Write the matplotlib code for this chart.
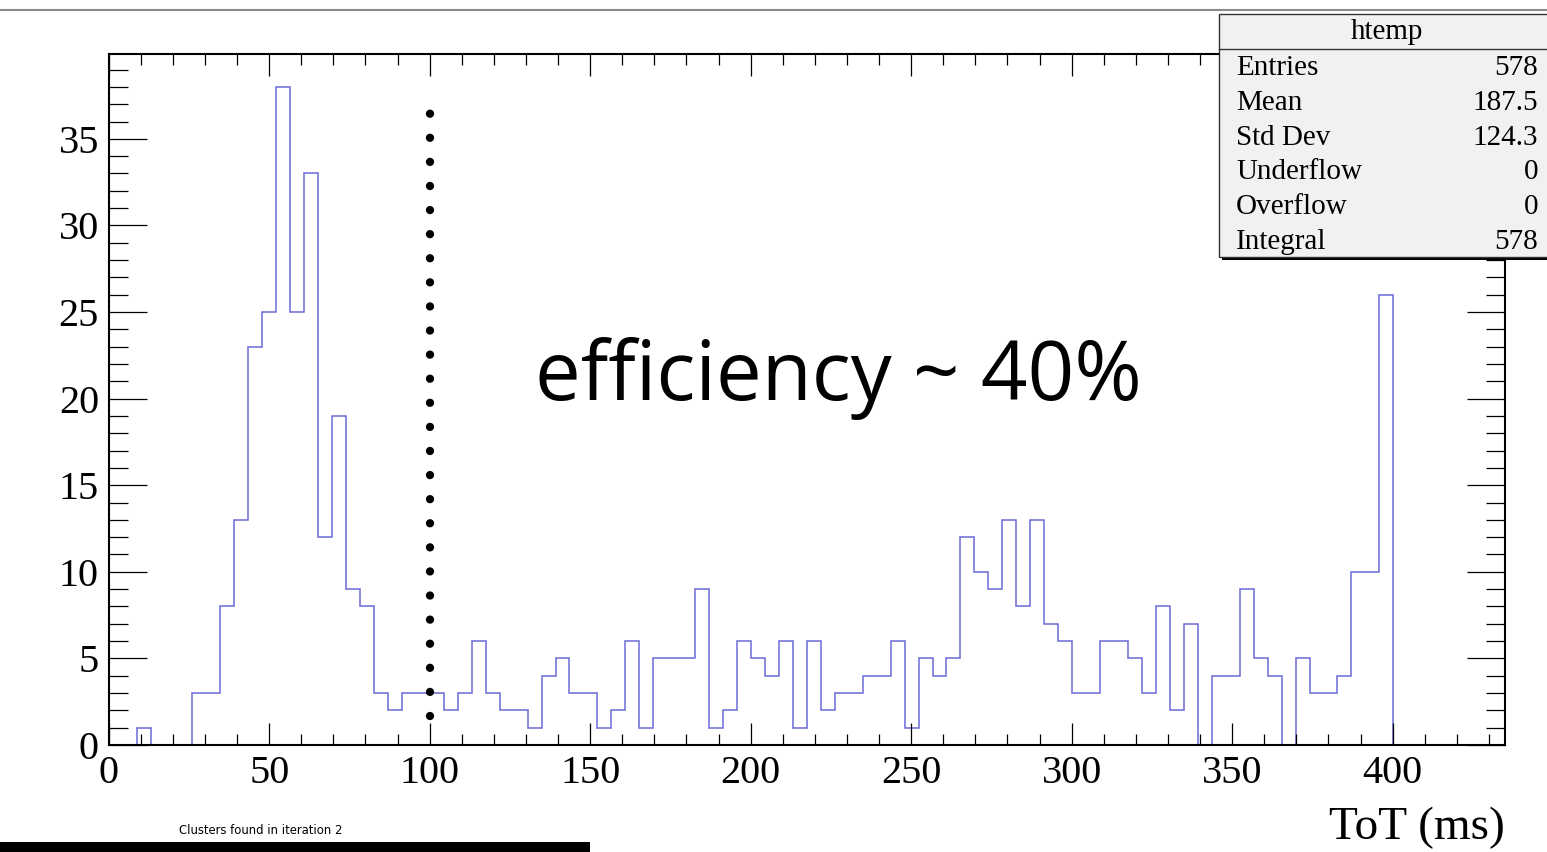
import numpy as np
import matplotlib.pyplot as plt
from matplotlib.patches import Rectangle
from matplotlib.lines import Line2D
from matplotlib.ticker import MultipleLocator

# htemp: ToT histogram, 100 bins over 0..435
counts = [0, 0, 1, 0, 0, 0, 3, 3, 8, 13,
          23, 25, 38, 25, 33, 12, 19, 9, 8, 3,
          2, 3, 3, 3, 2, 3, 6, 3, 2, 2,
          1, 4, 5, 3, 3, 1, 2, 6, 1, 5,
          5, 5, 9, 1, 2, 6, 5, 4, 6, 1,
          6, 2, 3, 3, 4, 4, 6, 1, 5, 4,
          5, 12, 10, 9, 13, 8, 13, 7, 6, 3,
          3, 6, 6, 5, 3, 8, 2, 7, 0, 4,
          4, 9, 5, 4, 0, 5, 3, 3, 4, 10,
          10, 26, 0, 0, 0, 0, 0, 0, 0, 0]
x_min, x_max, n_bins = 0, 435, 100
cut_x = 100
cut_y = [1.7, 36.62]

stat_names = ["Entries", "Mean", "Std Dev", "Underflow", "Overflow", "Integral"]
stat_values = ["578", "187.5", "124.3", "0", "0", "578"]

serif = "Liberation Serif"

fig = plt.figure(figsize=(15.47, 8.52), dpi=100)
W, H = 1547, 852

ax = fig.add_axes([108.7 / W, 1 - 745 / H, (1505 - 108.7) / W, (745 - 54) / H])
edges = np.linspace(x_min, x_max, n_bins + 1)
ax.stairs(counts, edges, color="#6a6ad8", linewidth=1.1)
ax.set_xlim(x_min, x_max)
ax.set_ylim(0, 39.9)

# dotted cut line
ax.plot([cut_x, cut_x], cut_y, color="black", linewidth=6,
        linestyle=(0, (0.001, 2.89)), dash_capstyle="round",
        solid_capstyle="round")

ax.xaxis.set_major_locator(MultipleLocator(50))
ax.xaxis.set_minor_locator(MultipleLocator(10))
ax.yaxis.set_major_locator(MultipleLocator(5))
ax.yaxis.set_minor_locator(MultipleLocator(1))
ax.tick_params(axis="both", which="both", direction="in", top=True, right=True,
               width=0.9, colors="black")
ax.tick_params(axis="x", which="major", length=15.8, pad=7)
ax.tick_params(axis="x", which="minor", length=7.9)
ax.tick_params(axis="y", which="major", length=27.4, pad=7)
ax.tick_params(axis="y", which="minor", length=13.7)
for lab in ax.get_xticklabels() + ax.get_yticklabels():
    lab.set_fontfamily(serif)
    lab.set_fontsize(29)
for s in ax.spines.values():
    s.set_linewidth(1.5)

fig.text(1505 / W, 1 - 828 / H, "ToT (ms)", ha="right", va="center",
         fontsize=34, family=serif)

fig.text(535 / W, 1 - 400 / H, "eﬃciency ~ 40%", ha="left", va="baseline",
         fontsize=58.8, family=["Open Sans", "DejaVu Sans"])

# top gray line
fig.add_artist(Line2D([0, 1], [1 - 10 / H, 1 - 10 / H], color="#8a8a8a",
                      linewidth=1.5, transform=fig.transFigure))

# stats box with shadow
bx0, btop, bbot = 1219, 14, 257
fig.add_artist(Rectangle(((bx0 + 3) / W, 1 - (bbot + 3) / H), (W - bx0) / W,
                         (bbot - btop) / H, transform=fig.transFigure,
                         facecolor="black", edgecolor="none", zorder=5))
fig.add_artist(Rectangle((bx0 / W, 1 - bbot / H), (W - bx0 + 5) / W,
                         (bbot - btop) / H, transform=fig.transFigure,
                         facecolor="#f1f1f1", edgecolor="#333333", linewidth=1,
                         zorder=6))
fig.add_artist(Line2D([bx0 / W, 1], [1 - 49 / H, 1 - 49 / H], color="#333333",
                      linewidth=1, transform=fig.transFigure, zorder=7))
fig.text(1387 / W, 1 - 32 / H, "htemp", ha="center", va="center",
         fontsize=21, family=serif, zorder=8)
for i, (name, val) in enumerate(zip(stat_names, stat_values)):
    y = 1 - (68 + i * 34.8) / H
    fig.text(1236 / W, y, name, ha="left", va="center", fontsize=21,
             family=serif, zorder=8)
    fig.text(1538 / W, y, val, ha="right", va="center", fontsize=21,
             family=serif, zorder=8)

# bottom-left strip from the screenshot
fig.add_artist(Rectangle((0, 0), 590 / W, 10 / H, transform=fig.transFigure,
                         facecolor="black", edgecolor="none"))
fig.text(261 / W, 1 - 831 / H, "Clusters found in iteration 2", ha="center",
         va="center", fontsize=8.4, family="DejaVu Sans")

plt.savefig("out.png")
plt.close()
